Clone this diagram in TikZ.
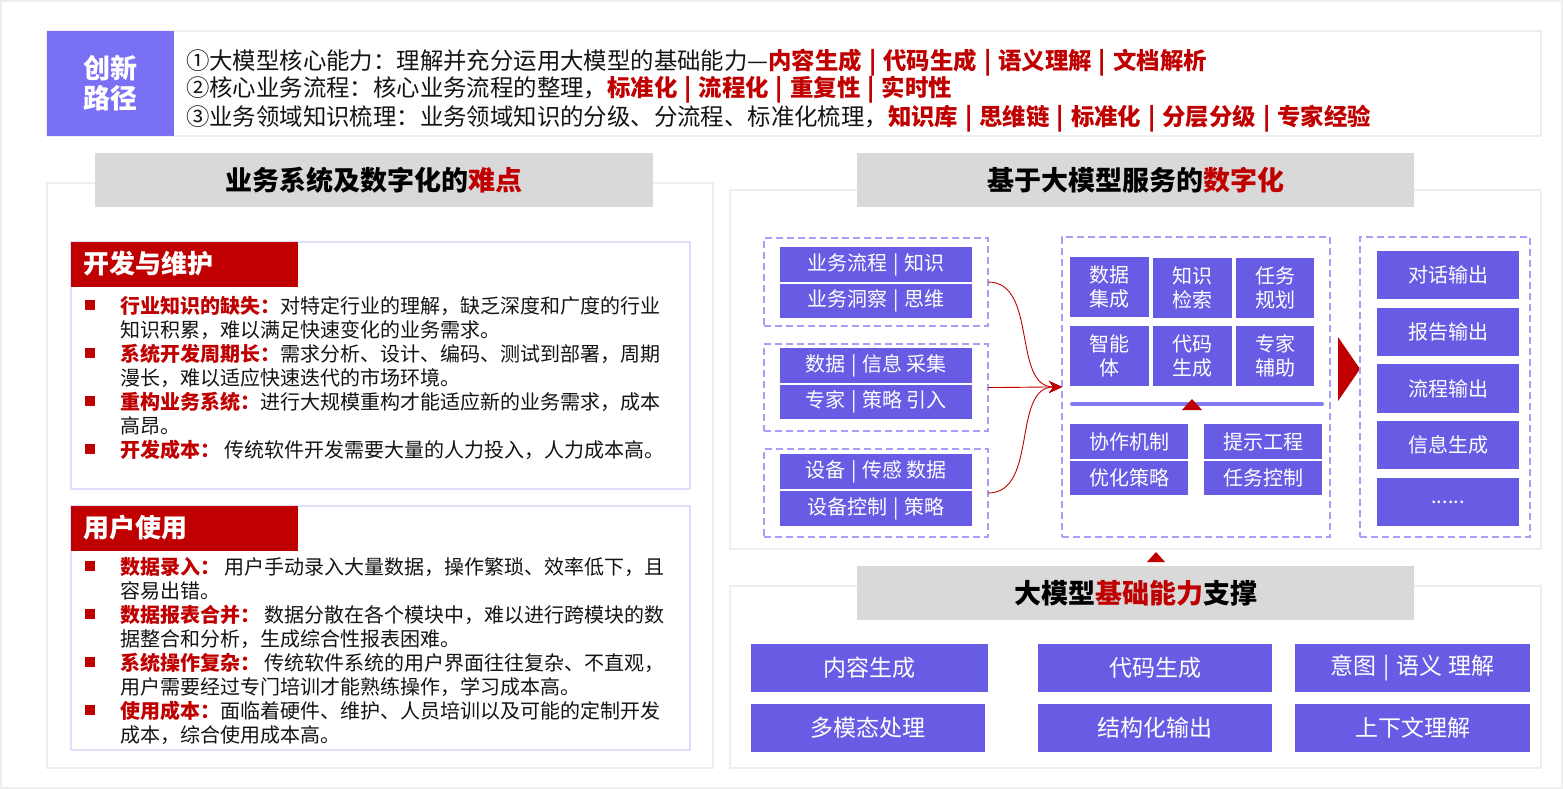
\documentclass[tikz,border=0pt]{standalone}
\usepackage{fontspec}
\setmainfont{Noto Sans CJK SC}
\usetikzlibrary{arrows.meta}
\definecolor{myred}{RGB}{192,0,0}
\definecolor{boxp}{RGB}{104,92,228}
\definecolor{lightp}{RGB}{122,112,246}
\definecolor{linep}{RGB}{132,122,240}
\definecolor{dashp}{RGB}{168,158,246}
\definecolor{hdrg}{RGB}{217,217,217}
\definecolor{panelg}{RGB}{238,238,238}
\definecolor{subl}{RGB}{226,223,252}
\definecolor{txt}{RGB}{20,20,20}
\newcommand\fs[1]{\fontsize{#1}{#1}\selectfont}
\newcommand\rb[1]{\textcolor{myred}{\bfseries #1}}
\newcommand\sepb{\hspace{0.3em}|\hspace{0.3em}}
% \bx{name}{style}{x1}{y1}{x2}{y2}{text}
\newcommand\bx[7]{\node (#1) [#2, minimum width={#5-#3}, minimum height={#6-#4}] at ({(#3+#5)/2},{(#4+#6)/2}) {#7};}
\tikzset{
 every node/.style={inner sep=0pt, outer sep=0pt},
 panel/.style={draw=panelg, line width=2pt},
 hdr/.style={fill=hdrg, font=\fs{27}\bfseries},
 subbox/.style={draw=subl, line width=2pt},
 redh/.style={fill=myred},
 redt/.style={anchor=west, text=white, font=\fs{26}\bfseries},
 dgrp/.style={draw=dashp, line width=1.6pt, dash pattern=on 7pt off 4pt},
 pbox/.style={fill=boxp, text=white, font=\fs{20}},
 pbig/.style={fill=boxp, text=white, font=\fs{23}},
 gbox/.style={fill=boxp, text=white, align=center, font=\fontsize{20}{24}\selectfont},
 sq/.style={fill=myred, minimum size=10pt},
 btxt/.style={anchor=base west, text=txt, font=\fs{20}},
 ttxt/.style={anchor=base west, text=txt, font=\fs{23.4}},
 conn/.style={draw=myred, line width=0.9pt, -{Stealth[length=13pt,width=12pt]}},
}
\begin{document}
\begin{tikzpicture}[x=1pt,y=-1pt]
\useasboundingbox (0,0) rectangle (1563,789);
\fill[white] (0,0) rectangle (1563,789);
\bx{frame}{draw=panelg, line width=1.5pt}{1}{1}{1562}{788}{}

% ---------- top banner
\bx{banner}{panel}{47}{31}{1541}{136}{}
\bx{cx}{fill=lightp, text=white, align=center, font=\fontsize{27}{30}\selectfont\bfseries}{47}{31}{174}{136}{创新\\路径}
\node (t1) [ttxt] at (186,70) {①大模型核心能力：理解并充分运用大模型的基础能力—\rb{内容生成\sepb 代码生成\sepb 语义理解\sepb 文档解析}};
\node (t2) [ttxt] at (186,97) {②核心业务流程：核心业务流程的整理，\rb{标准化\sepb 流程化\sepb 重复性\sepb 实时性}};
\node (t3) [ttxt] at (186,125) {③业务领域知识梳理：业务领域知识的分级、分流程、标准化梳理，\rb{知识库\sepb 思维链\sepb 标准化\sepb 分层分级\sepb 专家经验}};

% ---------- left panel
\bx{lp}{panel}{47}{183}{713}{768}{}
\bx{lh}{hdr}{95}{153}{653}{207}{业务系统及数字化的\textcolor{myred}{难点}}

\bx{s1}{subbox}{71}{242}{690}{489}{}
\bx{s1h}{redh}{71}{242}{298}{287}{}
\node (s1t) [redt] at (83,264) {开发与维护};

\node (q11) [sq] at (90,305) {};
\node (b11) [btxt] at (120,313) {\rb{行业知识的缺失：}对特定行业的理解，缺乏深度和广度的行业};
\node (b12) [btxt] at (120,337) {知识积累，难以满足快速变化的业务需求。};
\node (q12) [sq] at (90,353) {};
\node (b13) [btxt] at (120,361) {\rb{系统开发周期长：}需求分析、设计、编码、测试到部署，周期};
\node (b14) [btxt] at (120,385) {漫长，难以适应快速迭代的市场环境。};
\node (q13) [sq] at (90,401) {};
\node (b15) [btxt] at (120,409) {\rb{重构业务系统：}进行大规模重构才能适应新的业务需求，成本};
\node (b16) [btxt] at (120,433) {高昂。};
\node (q14) [sq] at (90,449) {};
\node (b17) [btxt] at (120,457) {\rb{开发成本：} 传统软件开发需要大量的人力投入，人力成本高。};

\bx{s2}{subbox}{71}{506}{690}{750}{}
\bx{s2h}{redh}{71}{506}{298}{551}{}
\node (s2t) [redt] at (83,528) {用户使用};

\node (q21) [sq] at (90,566) {};
\node (b21) [btxt] at (120,574) {\rb{数据录入：} 用户手动录入大量数据，操作繁琐、效率低下，且};
\node (b22) [btxt] at (120,598) {容易出错。};
\node (q22) [sq] at (90,614) {};
\node (b23) [btxt] at (120,622) {\rb{数据报表合并：} 数据分散在各个模块中，难以进行跨模块的数};
\node (b24) [btxt] at (120,646) {据整合和分析，生成综合性报表困难。};
\node (q23) [sq] at (90,662) {};
\node (b25) [btxt] at (120,670) {\rb{系统操作复杂：} 传统软件系统的用户界面往往复杂、不直观，};
\node (b26) [btxt] at (120,694) {用户需要经过专门培训才能熟练操作，学习成本高。};
\node (q24) [sq] at (90,710) {};
\node (b27) [btxt] at (120,718) {\rb{使用成本：}面临着硬件、维护、人员培训以及可能的定制开发};
\node (b28) [btxt] at (120,742) {成本，综合使用成本高。};

% ---------- right upper panel
\bx{rp}{panel}{730}{190}{1541}{549}{}
\bx{rh}{hdr}{857}{153}{1414}{207}{基于大模型服务的\textcolor{myred}{数字化}}

\bx{g1}{dgrp}{764}{238}{988}{326}{}
\bx{g1a}{pbox}{780}{247}{972}{282}{业务流程\sepb 知识}
\bx{g1b}{pbox}{780}{284}{972}{318}{业务洞察\sepb 思维}
\bx{g2}{dgrp}{764}{344}{988}{431}{}
\bx{g2a}{pbox}{780}{348}{972}{383}{数据\sepb 信息 采集}
\bx{g2b}{pbox}{780}{385}{972}{419}{专家\sepb 策略 引入}
\bx{g3}{dgrp}{764}{449}{988}{537}{}
\bx{g3a}{pbox}{780}{454}{972}{489}{设备\sepb 传感 数据}
\bx{g3b}{pbox}{780}{491}{972}{526}{设备控制\sepb 策略}

\bx{cg}{dgrp}{1062}{237}{1330}{537}{}
\bx{c11}{gbox}{1070}{257}{1149}{317}{数据\\集成}
\bx{c12}{gbox}{1153}{258}{1232}{318}{知识\\检索}
\bx{c13}{gbox}{1236}{258}{1314}{318}{任务\\规划}
\bx{c21}{gbox}{1070}{326}{1149}{386}{智能\\体}
\bx{c22}{gbox}{1153}{326}{1232}{386}{代码\\生成}
\bx{c23}{gbox}{1236}{326}{1314}{386}{专家\\辅助}
\coordinate (sepL) at (1072,404);
\coordinate (sepR) at (1322,404);
\draw[linep, line width=4pt, line cap=round] (sepL) -- (sepR);
\fill[myred] (1182,410) -- (1192,399) -- (1202,410) -- cycle;
\bx{d11}{pbox}{1070}{424}{1188}{459}{协作机制}
\bx{d12}{pbox}{1070}{461}{1188}{495}{优化策略}
\bx{d21}{pbox}{1204}{424}{1322}{459}{提示工程}
\bx{d22}{pbox}{1204}{461}{1322}{495}{任务控制}

\draw[conn] (g1.east) to[out=0,in=180] (cg.west);
\draw[conn] (g2.east) to[out=0,in=180] (cg.west);
\draw[conn] (g3.east) to[out=0,in=180] (cg.west);

\fill[myred] (1338,337) -- (1360,369) -- (1338,401) -- cycle;

\bx{og}{dgrp}{1360}{237}{1530}{537}{}
\bx{o1}{pbox}{1377}{251}{1519}{299}{对话输出}
\bx{o2}{pbox}{1377}{308}{1519}{356}{报告输出}
\bx{o3}{pbox}{1377}{364}{1519}{413}{流程输出}
\bx{o4}{pbox}{1377}{421}{1519}{469}{信息生成}
\bx{o5}{pbox}{1377}{478}{1519}{526}{......}

% ---------- bottom panel
\fill[myred] (1147,562) -- (1156,552) -- (1165,562) -- cycle;
\bx{bp}{panel}{730}{586}{1541}{768}{}
\bx{bh}{hdr}{857}{566}{1414}{620}{大模型\textcolor{myred}{基础能力}支撑}
\bx{k1}{pbig}{751}{644}{988}{692}{内容生成}
\bx{k2}{pbig}{1038}{644}{1272}{692}{代码生成}
\bx{k3}{pbig}{1295}{644}{1530}{692}{意图\sepb 语义 理解}
\bx{k4}{pbig}{751}{704}{985}{752}{多模态处理}
\bx{k5}{pbig}{1038}{704}{1272}{752}{结构化输出}
\bx{k6}{pbig}{1295}{704}{1530}{752}{上下文理解}
\end{tikzpicture}
\end{document}
